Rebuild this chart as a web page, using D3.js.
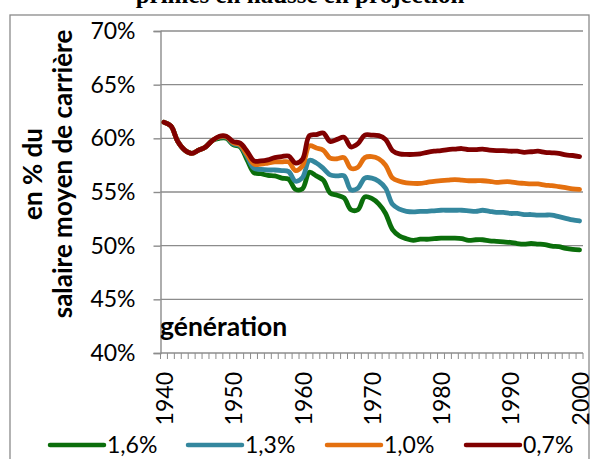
<!DOCTYPE html>
<html>
<head>
<meta charset="utf-8">
<script src="https://cdn.jsdelivr.net/npm/d3@7"></script>
<style>
  html, body { margin: 0; padding: 0; background: #fff; }
  svg { display: block; }
  text { font-family: Lato, "Open Sans", sans-serif; fill: #000; }
</style>
</head>
<body>
<div id="chart"></div>
<script>
const years = d3.range(1940, 2001);
const yTicks = [40, 45, 50, 55, 60, 65, 70];
const xLabels = [1940, 1950, 1960, 1970, 1980, 1990, 2000];
const seriesNames = ["1,6%", "1,3%", "1,0%", "0,7%"];
const seriesColors = ["#0b6e0b", "#34879e", "#e4700f", "#800000"];

const s07 = [61.5,61.15,59.7,58.9,58.6,58.9,59.2,59.8,60.2,60.2,
  59.7,59.55,58.8,57.9,57.9,58.0,58.2,58.3,58.35,57.7,
  58.05,60.25,60.35,60.5,59.7,59.9,60.1,59.2,59.5,60.3,
  60.3,60.25,59.9,58.85,58.55,58.5,58.5,58.55,58.7,58.8,
  58.85,58.95,59.0,59.05,58.95,58.95,59.0,58.9,58.85,58.85,
  58.8,58.8,58.7,58.75,58.8,58.7,58.65,58.6,58.45,58.4,58.3];
const s10 = [61.5,61.15,59.7,58.9,58.6,58.9,59.2,59.8,60.15,60.15,
  59.6,59.4,58.5,57.6,57.6,57.7,57.8,57.8,57.8,57.0,
  57.45,59.3,59.1,58.9,58.15,58.1,58.2,57.2,57.3,58.2,
  58.3,58.1,57.5,56.3,56.0,55.85,55.8,55.8,55.9,56.0,
  56.05,56.1,56.15,56.1,56.05,56.05,56.05,56.0,55.9,55.95,
  55.95,55.85,55.8,55.75,55.75,55.65,55.6,55.5,55.4,55.3,55.25];
const s13 = [61.5,61.15,59.7,58.9,58.6,58.9,59.2,59.8,60.1,60.1,
  59.5,59.3,58.3,57.2,57.1,57.05,57.05,57.0,56.9,56.0,
  56.35,57.95,57.7,57.2,56.6,56.5,56.5,55.2,55.35,56.3,
  56.3,56.0,55.35,53.85,53.4,53.2,53.15,53.2,53.2,53.25,
  53.3,53.3,53.3,53.3,53.25,53.2,53.3,53.2,53.1,53.1,
  53.0,53.0,52.9,52.9,52.85,52.85,52.85,52.7,52.55,52.4,52.3];
const s16 = [61.5,61.15,59.7,58.9,58.6,58.9,59.2,59.8,60.0,60.0,
  59.4,59.2,58.0,56.8,56.7,56.55,56.5,56.3,56.2,55.25,
  55.3,56.85,56.5,56.1,54.9,54.7,54.45,53.35,53.35,54.55,
  54.4,53.9,53.0,51.5,50.9,50.65,50.5,50.6,50.6,50.65,
  50.7,50.7,50.7,50.65,50.5,50.55,50.55,50.45,50.4,50.35,
  50.3,50.2,50.15,50.2,50.15,50.1,49.95,49.9,49.75,49.65,49.6];
const seriesValues = [s16, s13, s10, s07];

const W = 594, H = 459;
const svg = d3.select("#chart").append("svg").attr("width", W).attr("height", H);

// outer chart border
svg.append("rect").attr("x", 10).attr("y", 15).attr("width", 579).attr("height", 470)
  .attr("fill", "none").attr("stroke", "#8a8a8a").attr("stroke-width", 1.3);

// title (cut off at top, as in the reference)
svg.append("text").attr("x", 300).attr("y", 3).attr("text-anchor", "middle")
  .style("font-family", "'Liberation Serif', 'DejaVu Serif', serif")
  .style("font-weight", "bold").style("font-size", "25px")
  .text("primes en hausse en projection");

const plotL = 160.5, plotR = 583, plotT = 31, plotB = 353;
const x = d3.scalePoint().domain(years).range([plotL, plotR]).padding(0.5);
const y = d3.scaleLinear().domain([40, 70]).range([plotB, plotT]);
const step = x.step();

// gridlines
svg.append("g").selectAll("line").data(yTicks.filter(d => d > 40)).join("line")
  .attr("x1", plotL).attr("x2", plotR).attr("y1", d => y(d)).attr("y2", d => y(d))
  .attr("stroke", "#8c8c8c").attr("stroke-width", 1.4);

// y axis
const yAxis = d3.axisLeft(y).tickValues(yTicks).tickSize(7).tickPadding(18)
  .tickFormat(d => d + "%");
const gy = svg.append("g").attr("transform", `translate(${plotL},0)`).call(yAxis);
gy.select(".domain").attr("stroke", "#8c8c8c").attr("stroke-width", 1.4);
gy.selectAll(".tick line").attr("stroke", "#8c8c8c").attr("stroke-width", 1.4);
gy.selectAll(".tick text").style("font-size", "23px").style("font-family", "Lato, sans-serif")
  .attr("fill", "#000");

// x axis line and minor ticks (category boundaries)
const boundaries = d3.range(years.length + 1).map(i => plotL + i * step);
svg.append("line").attr("x1", plotL).attr("x2", plotR).attr("y1", plotB).attr("y2", plotB)
  .attr("stroke", "#8c8c8c").attr("stroke-width", 1.4);
svg.append("g").selectAll("line").data(boundaries).join("line")
  .attr("x1", d => d).attr("x2", d => d).attr("y1", plotB).attr("y2", plotB + 6)
  .attr("stroke", "#8c8c8c").attr("stroke-width", 1);

// x labels rotated
svg.append("g").selectAll("text").data(xLabels).join("text")
  .attr("transform", d => `translate(${x(d) + 1},${plotB + 19}) rotate(-90)`)
  .attr("text-anchor", "end").attr("dy", "0.35em")
  .style("font-size", "23px")
  .text(d => d);

// y axis title
const yTitle = svg.append("g").style("font-weight", "bold").style("font-size", "26px");
yTitle.append("text").attr("transform", "translate(33,174) rotate(-90)")
  .attr("text-anchor", "middle").attr("dy", "0.35em").text("en % du");
yTitle.append("text").attr("transform", "translate(63,174) rotate(-90)")
  .attr("text-anchor", "middle").attr("dy", "0.35em").text("salaire moyen de carrière");

// x title inside plot
svg.append("text").attr("x", 160).attr("y", 336)
  .style("font-weight", "bold").style("font-size", "26.5px").text("génération");

// lines
const line = d3.line().x((d, i) => x(years[i])).y(d => y(d)).curve(d3.curveCatmullRom.alpha(0.5));
svg.append("g").selectAll("path").data(seriesValues).join("path")
  .attr("d", d => line(d)).attr("fill", "none")
  .attr("stroke", (d, i) => seriesColors[i]).attr("stroke-width", 4.8)
  .attr("stroke-linejoin", "round").attr("stroke-linecap", "round");

// legend
const legendX = [50, 188, 327, 466];
const lg = svg.append("g").selectAll("g").data(seriesNames).join("g")
  .attr("transform", (d, i) => `translate(${legendX[i]},445)`);
lg.append("line").attr("x1", 0).attr("x2", 54).attr("y1", 0).attr("y2", 0)
  .attr("stroke", (d, i) => seriesColors[i]).attr("stroke-width", 4.5).attr("stroke-linecap", "round");
lg.append("text").attr("x", 57).attr("y", 0).attr("dy", "0.36em")
  .style("font-size", "23px").text(d => d);
</script>
</body>
</html>
